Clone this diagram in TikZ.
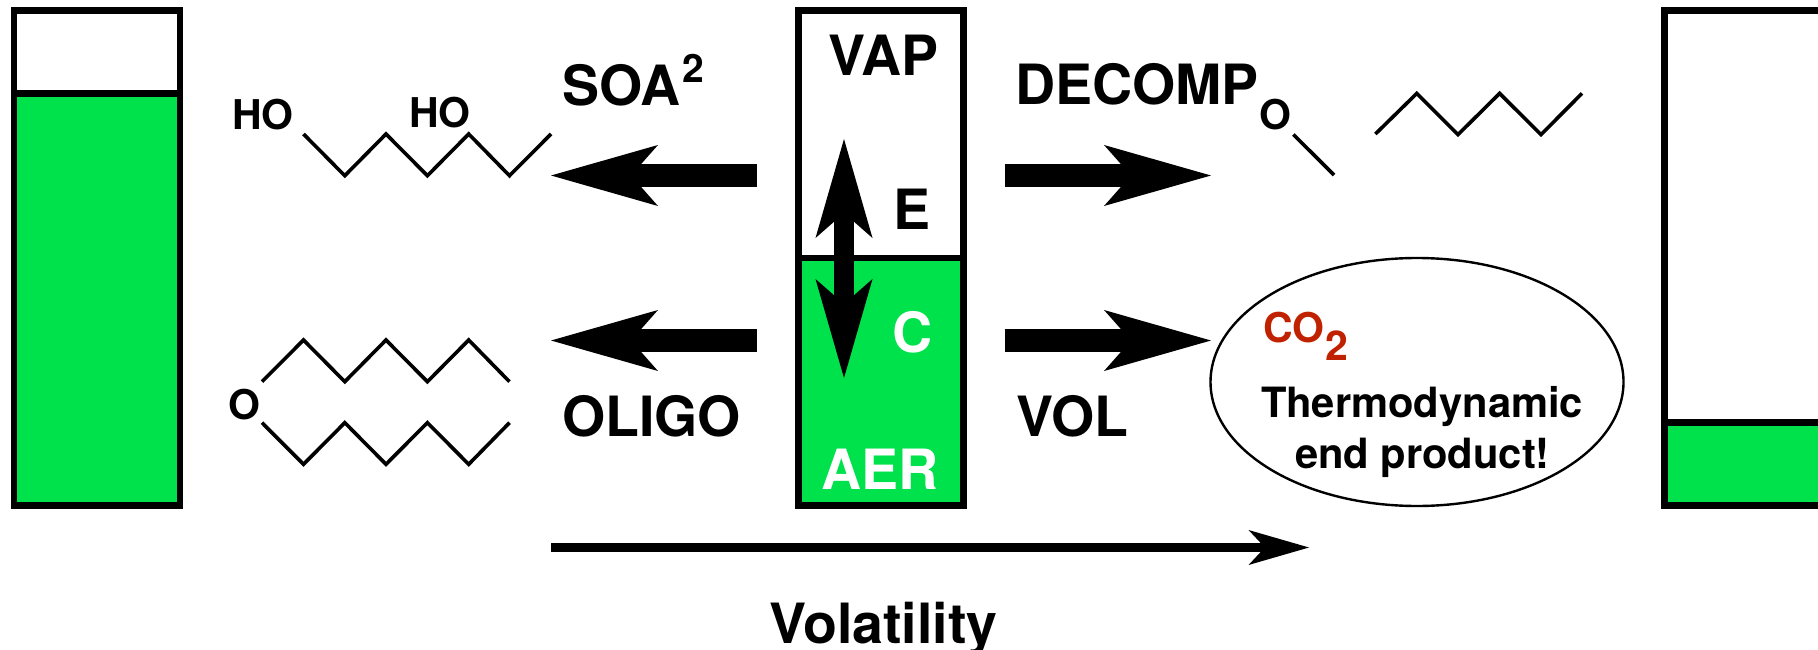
\documentclass[tikz,border=0pt]{standalone}
\usepackage{fontspec}
\setmainfont{TeX Gyre Heros}
\usetikzlibrary{arrows.meta,shapes.geometric}
\definecolor{aergreen}{RGB}{0,226,75}
\definecolor{co2red}{RGB}{192,34,0}
\tikzset{
  x=1pt,y=-1pt,
  tubeline/.style={draw=black,line width=6.7pt},
  bondline/.style={draw=black,line width=3.6pt},
  lab/.style={anchor=base west,inner sep=0pt,outer sep=0pt,font=\fontsize{55.5}{60}\selectfont\bfseries},
  chem/.style={anchor=base west,inner sep=0pt,outer sep=0pt,font=\fontsize{41}{45}\selectfont\bfseries},
  thermotext/.style={anchor=base west,inner sep=0pt,outer sep=0pt,font=\fontsize{41.7}{45}\selectfont\bfseries},
  bigarrow/.style={line width=23pt,-{Stealth[length=107pt,width=61pt,inset=27pt,line width=0pt]}},
  updown/.style={line width=20pt,{Stealth[length=99pt,width=57pt,inset=25pt,line width=0pt]}-{Stealth[length=99pt,width=57pt,inset=25pt,line width=0pt]}},
  volarrow/.style={line width=8.5pt,-{Stealth[length=60.5pt,width=35pt,inset=16.4pt,line width=0pt]}},
}
\begin{document}
\begin{tikzpicture}
\useasboundingbox (0,0) rectangle (1818,650);
% left tube
\fill[aergreen] (14,93) rectangle (180,505.5);
\draw[tubeline] (14,10.5) rectangle (180,505.5);
\draw[tubeline] (11,93.3) -- (183,93.3);
% centre tube
\fill[aergreen] (798.3,258) rectangle (963.3,505.5);
\draw[tubeline] (798.3,10.5) rectangle (963.3,505.5);
\draw[tubeline] (795,258) -- (966.7,258);
% right tube
\fill[aergreen] (1664.3,422.7) rectangle (1830,505.5);
\draw[tubeline] (1830,10.5) -- (1664.3,10.5) -- (1664.3,505.5) -- (1830,505.5);
\draw[tubeline] (1664.3,422.7) -- (1830,422.7);
% arrow ends
\coordinate (ulS) at (757,175.5); \coordinate (ulE) at (551,175.5);
\coordinate (llS) at (757,340.5); \coordinate (llE) at (551,340.5);
\coordinate (urS) at (1004.7,175.5); \coordinate (urE) at (1211,175.5);
\coordinate (lrS) at (1004.7,340.5); \coordinate (lrE) at (1211,340.5);
\coordinate (eqT) at (844,139); \coordinate (eqB) at (844,378);
\coordinate (volS) at (551,547.5); \coordinate (volE) at (1309,547.5);
\draw[bigarrow] (ulS) -- (ulE);
\draw[bigarrow] (llS) -- (llE);
\draw[bigarrow] (urS) -- (urE);
\draw[bigarrow] (lrS) -- (lrE);
\draw[updown] (eqT) -- (eqB);
\draw[volarrow] (volS) -- (volE);
% molecules
\draw[bondline] (303.5,134) -- (344.8,175.7) -- (386,134) -- (427.4,175.7) -- (468.7,134) -- (509.5,175.7) -- (551,134);
\draw[bondline] (262,381.7) -- (303.5,340) -- (344.8,381.7) -- (386,340) -- (427.4,381.7) -- (468.7,340) -- (509.5,381.7);
\draw[bondline] (262,422.7) -- (303.5,464.3) -- (344.8,422.7) -- (386,464.3) -- (427.4,422.7) -- (468.7,464.3) -- (509.5,422.7);
\draw[bondline] (1293.4,134.5) -- (1334,175);
\draw[bondline] (1375.4,134) -- (1416.8,93.4) -- (1458,134.6) -- (1499.6,93.4) -- (1541,134.6) -- (1582,93.4);
% ellipse
\node[ellipse,draw=black,line width=2.4pt,minimum width=413pt,minimum height=248pt,inner sep=0pt] (endprod) at (1417,382) {};
% labels
\node[lab] (vap) at (828,76) {VAP};
\node[lab] (eq) at (893,229) {E};
\node[lab,text=white] (con) at (892,352) {C};
\node[lab,text=white] (aer) at (821,489) {AER};
\node[lab] (decomp) at (1015.5,105) {DECOMP};
\node[lab] (vol) at (1016,436) {VOL};
\node[lab] (soa) at (562.5,105.5) {SOA};
\node[anchor=base west,inner sep=0pt,font=\fontsize{39}{42}\selectfont\bfseries] (soasup) at (682,83) {2};
\node[lab] (oligo) at (562,436) {OLIGO};
\node[lab] (volat) at (769,643) {Volatility};
\node[chem] (ho1) at (232,130) {HO};
\node[chem] (ho2) at (409,128) {HO};
\node[chem] (o1) at (228.5,419) {O};
\node[chem] (o2) at (1259,129.5) {O};
\node[chem,text=co2red] (co) at (1263,342.5) {CO};
\node[chem,text=co2red] (co2) at (1325,360) {2};
\node[thermotext] (thermo) at (1261,417) {Thermodynamic};
\node[thermotext] (endp) at (1295,468.5) {end product!};
\end{tikzpicture}
\end{document}
